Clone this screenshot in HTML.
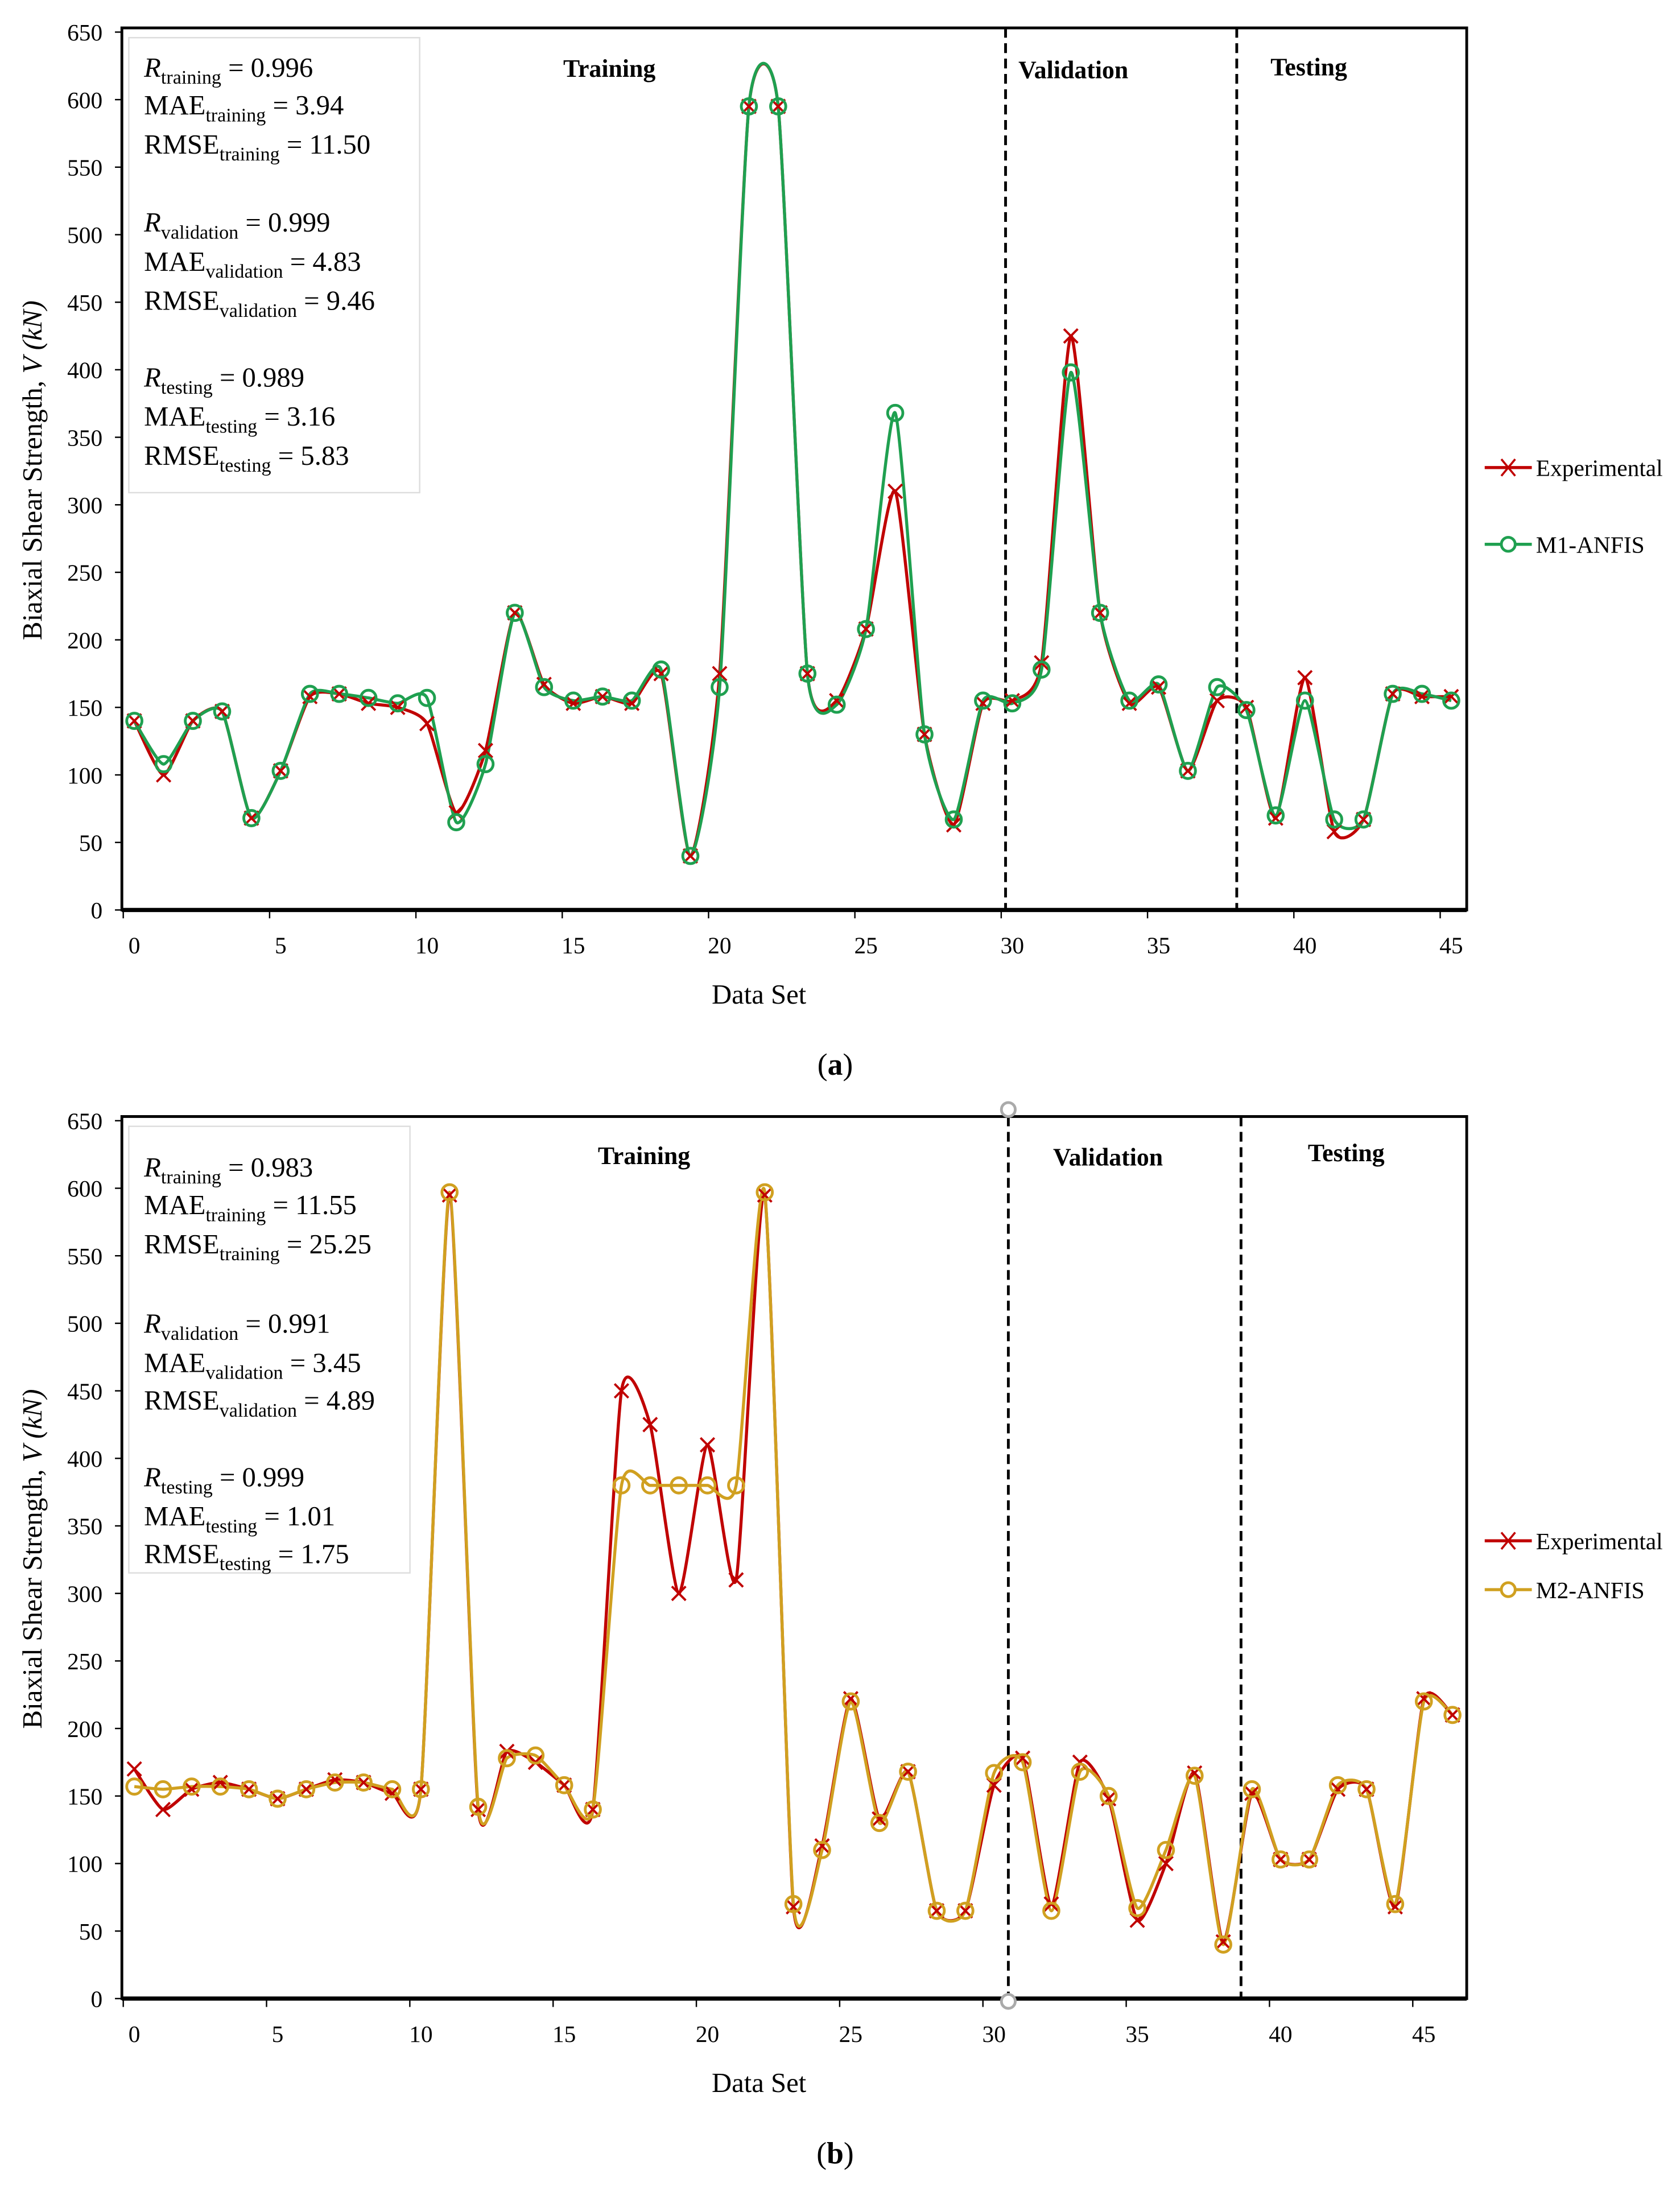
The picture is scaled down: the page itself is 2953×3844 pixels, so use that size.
<!DOCTYPE html>
<html><head><meta charset="utf-8">
<style>
html,body{margin:0;padding:0;background:#fff;}
svg{display:block;font-family:"Liberation Serif",serif;}
</style></head>
<body>
<svg id="fig" width="2953" height="3844" viewBox="0 0 1213 1567" preserveAspectRatio="none" xmlns="http://www.w3.org/2000/svg"></svg>
<script>
// ---- Chart (a) data ----
const idxA = Array.from({length:46},(_,i)=>i);
const expA = [140,100,140,147,68,103,158,160,153,150,138,72,118,220,167,153,158,153,175,40,175,595,595,175,155,208,310,130,63,153,155,183,425,220,153,165,103,155,150,68,172,58,67,160,158,158];
const modA = [140,108,140,147,68,103,160,160,157,153,157,65,108,220,165,155,158,155,178,40,165,595,595,175,152,208,368,130,67,155,153,178,398,220,155,167,103,165,148,70,155,67,67,160,160,155];
// ---- Chart (b) data ----
const idxB = Array.from({length:47},(_,i)=>i);
const expB = [170,140,155,160,155,148,155,162,160,152,155,595,140,183,175,158,140,450,425,300,410,310,595,68,113,222,133,168,65,65,158,178,70,175,148,58,100,167,42,152,103,103,155,155,68,222,210];
const modB = [157,155,157,157,155,148,155,160,160,155,155,597,142,178,180,158,140,380,380,380,380,380,597,70,110,220,130,168,65,65,167,175,65,168,150,67,110,165,40,155,103,103,158,155,70,220,210];
const yTicks = [0,50,100,150,200,250,300,350,400,450,500,550,600,650];
const xTicks = [0,5,10,15,20,25,30,35,40,45];

const NS="http://www.w3.org/2000/svg";
const svg=document.getElementById('fig');
function el(tag,attrs,parent){const e=document.createElementNS(NS,tag);for(const k in attrs)e.setAttribute(k,attrs[k]);(parent||svg).appendChild(e);return e;}
function spline(pts){let d=`M${pts[0][0]},${pts[0][1]}`;const t=0.1;
 for(let i=0;i<pts.length-1;i++){const p0=pts[Math.max(0,i-1)],p1=pts[i],p2=pts[i+1],p3=pts[Math.min(pts.length-1,i+2)];
  d+=` C${p1[0]+(p2[0]-p0[0])*t},${p1[1]+(p2[1]-p0[1])*t} ${p2[0]-(p3[0]-p1[0])*t},${p2[1]-(p3[1]-p1[1])*t} ${p2[0]},${p2[1]}`;}
 return d;}

function chart(cfg){
 const g=el('g',{});
 
 
 const L=88,R=1059,T=cfg.top,B=cfg.top+632;
 const y=v=>B-v*(629/650);
 const x=i=>97+i*cfg.dx;
 const fr=el('rect',{x:L,y:T,width:R-L,height:B-T,fill:'none',stroke:'#000','stroke-width':2},g);
 
 
 yTicks.forEach(v=>{
  el('line',{x1:L-5,x2:L,y1:y(v),y2:y(v),stroke:'#000','stroke-width':1},g);
  const t=el('text',{x:74,y:y(v)+6,'text-anchor':'end','font-size':17},g);t.textContent=v;
  
  
 });
 xTicks.forEach(v=>{
  el('line',{x1:x(v)-8,x2:x(v)-8,y1:B,y2:B+6,stroke:'#000','stroke-width':1},g);
  const t=el('text',{x:x(v),y:B+31,'text-anchor':'middle','font-size':17},g);t.textContent=v;
  
  
 });
 el('line',{x1:L,x2:R,y1:B,y2:B,stroke:'#000','stroke-width':3},g);
 cfg.divs.forEach(dv=>{
  const l=el('line',{x1:x(dv),x2:x(dv),y1:T,y2:B,stroke:'#000','stroke-width':2,'stroke-dasharray':'7,4'},g);
  
  
 });
 if(cfg.handles){[T-5,B+2].forEach(yy=>{const c=el('circle',{cx:x(cfg.divs[0]),cy:yy,r:5,fill:'#fff',stroke:'#aaa','stroke-width':2},g);
  });}
 cfg.sections.forEach(s=>{const t=el('text',{x:s[1],y:s[2],'text-anchor':'middle','font-size':18,'font-weight':'bold'},g);t.textContent=s[0];
  });
 const sb=el('rect',{x:93,y:T+7,width:cfg.boxW,height:cfg.boxH,fill:'#fff',stroke:'#ddd','stroke-width':1},g);
 
 cfg.stats.forEach((s,k)=>{
  const yy=T+cfg.statY[k];
  const t=el('text',{x:104,y:yy,'font-size':20},g);
  
  const a=el('tspan',{'font-style':s[0]==='R'?'italic':'normal'},t);a.textContent=s[0];
  const b=el('tspan',{'font-size':14,dy:5},t);b.textContent=s[1];
  const c=el('tspan',{dy:-5},t);c.textContent=s[2];
 });
 const series=[[cfg.exp,'#c00000','x','Experimental'],[cfg.mod,cfg.modColor,'o',cfg.modName]];
 series.forEach((s,si)=>{
  const pts=cfg.idx.map((i,k)=>[x(i),y(s[0][k])]);
  const p=el('path',{d:spline(pts),fill:'none',stroke:s[1],'stroke-width':2.2},g);
  
  
 });
 series.forEach((s,si)=>{
  cfg.idx.forEach((i,k)=>{
   const px=x(i),py=y(s[0][k]);
   if(s[2]==='x'){const m=el('path',{d:`M${px-5},${py-5}L${px+5},${py+5}M${px-5},${py+5}L${px+5},${py-5}`,stroke:s[1],'stroke-width':1.6,fill:'none'},g);
    }
   else{const m=el('circle',{cx:px,cy:py,r:5.5,fill:'none',stroke:s[1],'stroke-width':2},g);
    }
  });
 });
 series.forEach((s,si)=>{
  const ly=T+cfg.legY[si];
  const lg=el('g',{},g);
  
  
  el('line',{x1:1072,x2:1106,y1:ly,y2:ly,stroke:s[1],'stroke-width':2.2},lg);
  if(si===0)el('path',{d:`M1084,${ly-6}L1094,${ly+6}M1084,${ly+6}L1094,${ly-6}`,stroke:s[1],'stroke-width':1.5},lg);
  else el('circle',{cx:1089,cy:ly,r:5,fill:'#fff',stroke:s[1],'stroke-width':2},lg);
  const t=el('text',{x:1109,y:ly+6,'font-size':17},lg);t.textContent=s[3];
 });
 const yt=el('text',{transform:`translate(30,${T+317}) rotate(-90)`,'text-anchor':'middle','font-size':20},g);
 
 el('tspan',{},yt).textContent='Biaxial Shear Strength, ';
 el('tspan',{'font-style':'italic'},yt).textContent='V (kN)';
 const xt=el('text',{x:548,y:B+67,'text-anchor':'middle','font-size':20},g);xt.textContent='Data Set';
 
 const cap=el('text',{x:603,y:B+118,'text-anchor':'middle','font-size':22},g);
 
 el('tspan',{},cap).textContent='(';el('tspan',{'font-weight':'bold'},cap).textContent=cfg.letter;el('tspan',{},cap).textContent=')';
}

chart({name:'chart-a',top:20,dx:21.13,idx:idxA,exp:expA,mod:modA,modColor:'#1fa050',modName:'M1-ANFIS',
 divs:[29.77,37.67],sections:[['Training',440,55],['Validation',775,56],['Testing',945,54]],
 boxW:210,boxH:326,statY:[35,62,90,146,174,202,257,285,313],legY:[315,370],letter:'a',
 stats:[['R','training',' = 0.996'],['MAE','training',' = 3.94'],['RMSE','training','  = 11.50'],['R','validation',' = 0.999'],['MAE','validation',' = 4.83'],['RMSE','validation','  = 9.46'],['R','testing','  = 0.989'],['MAE','testing',' = 3.16'],['RMSE','testing','  = 5.83']]});
chart({name:'chart-b',top:800,dx:20.69,idx:idxB,exp:expB,mod:modB,modColor:'#d0a020',modName:'M2-ANFIS',handles:true,
 divs:[30.5,38.62],sections:[['Training',465,834],['Validation',800,835],['Testing',972,832]],
 boxW:203,boxH:320,statY:[43,70,98,155,183,210,265,293,320],legY:[304,339],letter:'b',
 stats:[['R','training',' = 0.983'],['MAE','training',' = 11.55'],['RMSE','training','  = 25.25'],['R','validation',' = 0.991'],['MAE','validation',' = 3.45'],['RMSE','validation','  = 4.89'],['R','testing','  = 0.999'],['MAE','testing',' = 1.01'],['RMSE','testing','  = 1.75']]});
</script>
</body></html>
